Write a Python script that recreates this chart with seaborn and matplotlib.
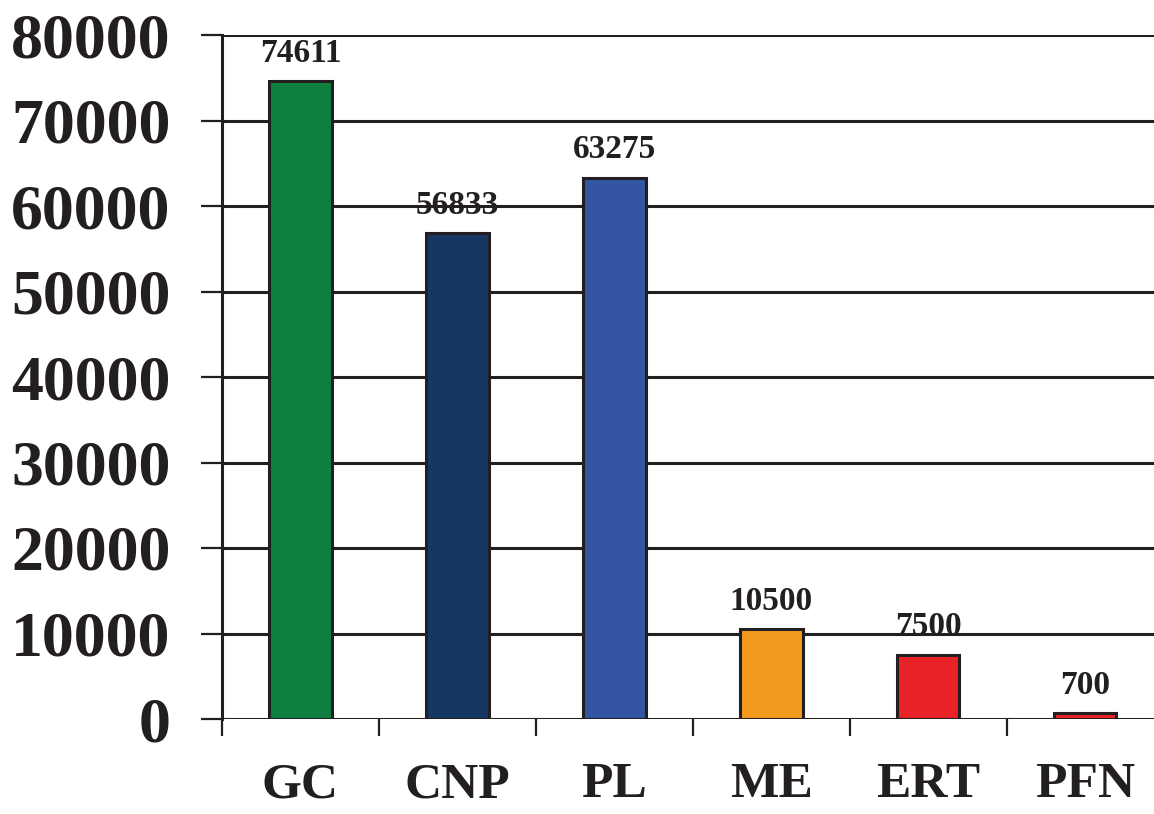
import matplotlib
matplotlib.use("Agg")
import matplotlib.pyplot as plt
import seaborn as sns
import pandas as pd
from matplotlib.ticker import FixedLocator

categories = ["GC", "CNP", "PL", "ME", "ERT", "PFN"]
values = [74611, 56833, 63275, 10500, 7500, 700]
bar_colors = ["#0e7f3e", "#173763", "#3455a2", "#f39a1f", "#e92227", "#e92227"]
y_ticks = [0, 10000, 20000, 30000, 40000, 50000, 60000, 70000, 80000]

ink = "#231f20"

sns.set_theme(style="white")
plt.rcParams["font.family"] = ["Liberation Serif", "DejaVu Serif"]
plt.rcParams["font.weight"] = "bold"

df = pd.DataFrame({"category": categories, "value": values})

fig = plt.figure(figsize=(11.54, 8.14), dpi=100)
ax = fig.add_axes([222 / 1154, 95 / 814, 932 / 1154, 684 / 814])

sns.barplot(data=df, x="category", y="value", hue="category",
            palette=bar_colors, saturation=1, legend=False, width=0.4,
            edgecolor=ink, linewidth=2.2, ax=ax, zorder=3)

ax.set_xlim(-0.5, 5.44)
ax.set_ylim(0, 80000)
ax.set_yticks(y_ticks)
ax.set_yticklabels([str(t) for t in y_ticks])
ax.set_xlabel("")
ax.set_ylabel("")

# horizontal grid lines
ax.yaxis.grid(True, color=ink, linewidth=2.2, zorder=1)
ax.xaxis.grid(False)
ax.set_axisbelow(True)

for s in ["top", "right", "bottom"]:
    ax.spines[s].set_visible(False)
ax.spines["left"].set_color(ink)
ax.spines["left"].set_linewidth(2.2)

# separator ticks between categories
ax.xaxis.set_minor_locator(FixedLocator([i - 0.5 for i in range(len(categories) + 1)]))
ax.tick_params(axis="x", which="minor", bottom=True, length=12.5, width=1.6,
               color=ink, direction="out")
ax.tick_params(axis="x", which="major", bottom=True, length=0, pad=31,
               labelsize=37, labelcolor=ink)
ax.tick_params(axis="y", which="major", left=True, length=15, width=1.6,
               color=ink, direction="out", pad=22, labelsize=46, labelcolor=ink)
for lab in ax.get_xticklabels() + ax.get_yticklabels():
    lab.set_fontweight("bold")

for cont in ax.containers:
    ax.bar_label(cont, padding=9, fontsize=24, fontweight="bold", color=ink)

fig.savefig("out.png", dpi=100, facecolor="white")
